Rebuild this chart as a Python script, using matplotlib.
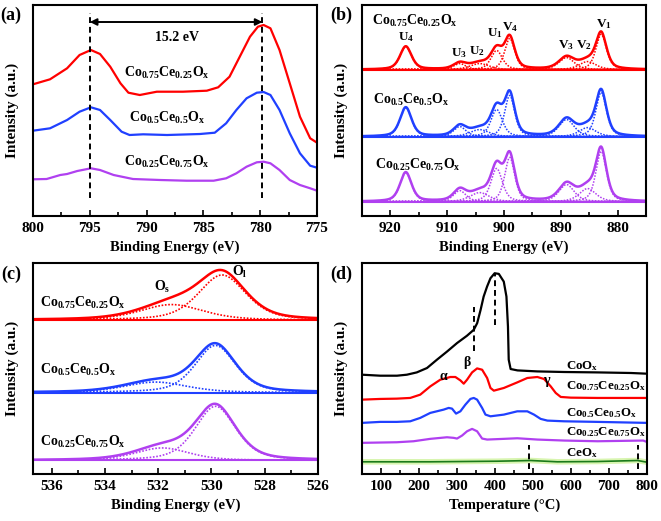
import numpy as np
import matplotlib.pyplot as plt

plt.rcParams['font.family'] = 'Liberation Serif'
plt.rcParams['font.weight'] = 'bold'
plt.rcParams['axes.labelweight'] = 'bold'
plt.rcParams['mathtext.fontset'] = 'custom'
plt.rcParams['mathtext.rm'] = 'Liberation Serif:bold'
plt.rcParams['mathtext.bf'] = 'Liberation Serif:bold'
plt.rcParams['mathtext.it'] = 'Liberation Serif:bold'
plt.rcParams['mathtext.default'] = 'bf'

names = [r'Co$_{0.75}$Ce$_{0.25}$O$_x$', r'Co$_{0.5}$Ce$_{0.5}$O$_x$',
         r'Co$_{0.25}$Ce$_{0.75}$O$_x$']
colors = ['#ff0000', '#2040ff', '#b040f0']

# ---- (a) Co 2p
a_x_red = [800, 798.5, 797.0, 795.9, 794.9, 794.1, 793.2, 792.3, 791.6, 790.6, 789.1, 786.8,
           784.7, 783.7, 782.7, 781.8, 780.9, 780.2, 779.7, 779.1, 778.3, 777.4, 776.5, 775.6, 775]
a_red = [131.7, 136.7, 147.7, 161, 166, 162, 149.3, 132.7, 123.3, 121, 124.3, 124.3,
         125.3, 128.7, 139.3, 159.3, 179.3, 189.3, 191, 187.7, 166, 132.7, 99.3, 77.7, 73.3]
a_x_blue = [800, 798.5, 797.0, 795.9, 794.9, 794.1, 793.2, 792.2, 791.5, 790.3, 788.2, 785.3,
            784.0, 783.0, 782.1, 781.2, 780.3, 779.7, 779.1, 778.3, 777.4, 776.5, 775.6, 775]
a_blue = [85.3, 87.7, 96, 104.3, 108.7, 106, 96, 84.3, 81, 81.7, 81, 82,
          83.3, 92.7, 106, 117.7, 123.3, 124, 121, 106, 82.7, 62.7, 50.3, 48.3]
a_x_purple = [800, 798.8, 797.6, 797.0, 796.1, 794.9, 794.1, 792.9, 791.2, 788.8, 786.5, 784.1,
              783.0, 782.1, 781.2, 780.3, 779.7, 779.1, 778.3, 777.4, 776.5, 775.6, 775]
a_purple = [36.7, 37, 41, 42, 45, 47.7, 46, 41, 37, 36, 35.3, 35.3,
            37.7, 42.7, 49.3, 53.7, 54.3, 52.7, 46, 36, 31, 27.7, 25.3]
a_peaks = [795.0, 779.8]

# ---- (b) Ce 3d fit: U4, U3, U2, U1, V4, V3, V2, V1
b_labels = ['U$_4$', 'U$_3$', 'U$_2$', 'U$_1$', 'V$_4$', 'V$_3$', 'V$_2$', 'V$_1$']
b_pos = [917.3, 907.8, 904.3, 901.3, 899.0, 889.0, 885.3, 882.9]
b_fwhm = [2.4, 2.6, 4.0, 2.4, 2.1, 3.2, 3.5, 2.2]
b_height = [[23, 6, 6, 19, 31, 12, 8, 35],
            [29, 10, 7, 27, 41, 17, 9, 44],
            [29, 11, 9, 33, 44, 17, 13, 50]]
b_base = [145.7, 79, 14.3]

# ---- (c) O 1s fit: O_l, O_s
c_pos = [[529.6, 531.5], [529.85, 532.1], [529.85, 531.85]]
c_fwhm = [[2.1, 2.8], [1.8, 2.8], [1.8, 2.4]]
c_height = [[45, 15.5], [47, 10.5], [54, 12.5]]
c_base = [154, 81.7, 14]

# ---- (d) H2-TPR
d_T_coox = [50, 98, 142, 168, 194, 221, 247, 274, 300, 326, 344, 353, 362, 370, 379, 388, 399,
            410, 423, 430, 434, 436, 441, 459, 511, 582, 670, 758, 800]
d_coox = [100, 99, 99, 100, 102.3, 106.7, 115, 123.3, 131.7, 139, 145, 151.7, 165, 178.3, 188.3,
          196.7, 201.7, 201, 193.3, 178.3, 148.3, 115, 105.7, 104.3, 103.3, 102.7, 102.3, 101.7, 101]
d_T_075 = [50, 97.5, 141.5, 176.8, 203.2, 229.6, 256, 282.4, 295.6, 308.8, 317.6, 326.4, 339.6,
           352.8, 366, 379.2, 388, 396.8, 423.2, 458.5, 484.9, 511.3, 528.9, 546.5, 559.7, 572.9,
           599.3, 669.7, 800]
d_075 = [75, 75.7, 76, 76.7, 80, 88.3, 95, 97.7, 97.7, 94.3, 91, 95, 102.3, 106.3, 105, 96.7,
         86.7, 84, 86.7, 92.3, 96.7, 97.7, 95.7, 88.3, 81.7, 77.7, 77, 76.7, 76.7]
d_T_05 = [50, 97.5, 141.5, 176.8, 203.2, 229.6, 264.8, 278, 286.8, 297.4, 308.8, 322, 335.2, 344,
          352.8, 366, 374.8, 388, 423.2, 458.5, 484.9, 502.5, 520.1, 537.7, 581.7, 669.7, 800]
d_05 = [51.7, 52.7, 52.7, 53.3, 56.7, 61.7, 65, 66.7, 66, 61, 63.3, 70, 75.7, 76.7, 75, 66.7,
        60, 58.3, 60, 63.3, 63.3, 60, 55.7, 54, 53.3, 52.7, 51.7]
d_T_025 = [50, 141.5, 185.6, 229.6, 273.6, 291.2, 300, 313.2, 326.4, 339.6, 352.8, 366, 379.2,
           423.2, 458.5, 511.3, 581.7, 669.7, 790, 800]
d_025 = [31.7, 32.3, 33.3, 35.7, 37.3, 36.7, 36, 39, 43.3, 45.7, 43.3, 36, 35, 35.7, 36.3, 35,
         34, 33.3, 34, 32.5]
d_T_ceox = [50, 230, 406, 494, 564, 670, 775, 800]
d_ceox = [12.7, 12.7, 13.3, 14, 12.7, 13, 14, 12.3]


def pv(x, c, h, w, eta=0.3):
    g = np.exp(-4 * np.log(2) * ((x - c) / w) ** 2)
    l = 1 / (1 + 4 * ((x - c) / w) ** 2)
    return h * ((1 - eta) * g + eta * l)


def style(ax, xlim, major, minor, xlabel):
    lo, hi = min(xlim), max(xlim)
    ax.set_xticks(np.arange(np.ceil(lo / major) * major, hi + 0.01, major))
    ax.set_xticks(np.arange(np.ceil(lo / minor) * minor, hi + 0.01, minor), minor=True)
    ax.set_xlim(*xlim)
    ax.set_yticks([])
    ax.tick_params(axis='x', which='major', direction='in', length=4, width=1.2,
                   labelsize=11, pad=4)
    ax.tick_params(axis='x', which='minor', direction='in', length=3, width=1.2)
    for s in ax.spines.values():
        s.set_linewidth(1.5)
    ax.set_xlabel(xlabel, fontsize=10.5, labelpad=4)
    ax.set_ylabel('Intensity (a.u.)', fontsize=11, labelpad=10)


fig = plt.figure(figsize=(6.61, 5.21), dpi=100)
ax_a = fig.add_axes([0.0499, 0.5854, 0.4297, 0.405])
ax_b = fig.add_axes([0.5477, 0.5854, 0.4297, 0.405])
ax_c = fig.add_axes([0.0499, 0.0893, 0.4312, 0.406])
ax_d = fig.add_axes([0.5477, 0.0893, 0.4312, 0.406])

# (a)
for xs, ys, c in zip([a_x_red, a_x_blue, a_x_purple], [a_red, a_blue, a_purple], colors):
    ax_a.plot(xs, ys, color=c, lw=1.6, solid_joinstyle='round')
for p in a_peaks:
    ax_a.plot([p, p], [18, 203], color='k', lw=1.4, ls=(0, (3, 2)))
ax_a.annotate('', xy=(a_peaks[1], 194), xytext=(a_peaks[0], 194),
              arrowprops=dict(arrowstyle='<|-|>', color='k', lw=1.4,
                              shrinkA=0, shrinkB=0, mutation_scale=10))
ax_a.text(787.3, 179, '15.2 eV', ha='center', va='center', fontsize=10)
for y, n in zip([143, 98, 54], names):
    ax_a.text(788.2, y, n, ha='center', va='center', fontsize=10)
ax_a.set_ylim(0, 211)
style(ax_a, (800, 775), 5, 2.5, 'Binding Energy (eV)')

# (b)
gb = np.linspace(925, 875, 1200)
for i in range(3):
    base = b_base[i]
    comps = [pv(gb, p, h, w, 0.5) for p, h, w in zip(b_pos, b_height[i], b_fwhm)]
    for cp in comps:
        ax_b.plot(gb, base + cp, color=colors[i], lw=1.1, ls=(0, (1, 1)))
    ax_b.plot([925, 875], [base, base], color=colors[i], lw=1.5)
    ax_b.plot(gb, base + np.sum(comps, axis=0), color=colors[i], lw=1.8)
ax_b.text(923.2, 194, names[0], ha='left', va='center', fontsize=10)
ax_b.text(923.1, 115.7, names[1], ha='left', va='center', fontsize=10)
ax_b.text(922.7, 51, names[2], ha='left', va='center', fontsize=10)
b_lab_x = [917.25, 907.9, 904.8, 901.6, 898.9, 889.1, 885.9, 882.4]
b_lab_y = [177.7, 162.3, 164.3, 181.7, 187.7, 170, 170, 191]
for x, y, t in zip(b_lab_x, b_lab_y, b_labels):
    ax_b.text(x, y, t, ha='center', va='center', fontsize=9.5)
ax_b.set_ylim(0, 210)
style(ax_b, (925, 875), 10, 5, 'Binding Energy (eV)')

# (c)
gc = np.linspace(536.7, 526, 1000)
c_lab_y = [170.7, 104, 32.3]
for i in range(3):
    base = c_base[i]
    comps = [pv(gc, p, h, w, 0.45) for p, h, w in zip(c_pos[i], c_height[i], c_fwhm[i])]
    for cp in comps:
        ax_c.plot(gc, base + cp, color=colors[i], lw=1.2, ls=(0, (1, 1)))
    ax_c.plot([536.7, 526], [base, base], color=colors[i], lw=1.5)
    ax_c.plot(gc, base + np.sum(comps, axis=0), color=colors[i], lw=1.8)
    ax_c.text(536.45, c_lab_y[i], names[i], ha='left', va='center', fontsize=10)
ax_c.text(531.86, 187.3, 'O$_s$', ha='center', va='center', fontsize=10)
ax_c.text(528.94, 202.3, 'O$_l$', ha='center', va='center', fontsize=10)
ax_c.set_ylim(0, 211)
style(ax_c, (536.7, 526), 2, 1, 'Binding Energy (eV)')

# (d)
ax_d.plot(d_T_ceox, d_ceox, color='#d8f5b0', lw=4)
ax_d.plot(d_T_ceox, d_ceox, color='#1a7a1a', lw=1.2)
ax_d.plot(d_T_025, d_025, color=colors[2], lw=1.6)
ax_d.plot(d_T_05, d_05, color=colors[1], lw=1.6)
ax_d.plot(d_T_075, d_075, color=colors[0], lw=1.6)
ax_d.plot(d_T_coox, d_coox, color='k', lw=1.6)
for x, y0, y1 in [(399, 150, 201.7), (344, 123.3, 168.3), (489, 5, 30), (777, 5, 30)]:
    ax_d.plot([x, x], [y0, y1], color='k', lw=1.4, ls=(0, (3, 2)))
d_names = ['CoO$_x$'] + names + ['CeO$_x$']
for y, n in zip([108.3, 88.3, 61.7, 42.7, 21.7], d_names):
    ax_d.text(586, y, n, ha='left', va='center', fontsize=9.3)
ax_d.text(264.7, 98.3, r'$\alpha$', ha='center', va='center', fontsize=10)
ax_d.text(328, 112.3, r'$\beta$', ha='center', va='center', fontsize=10)
ax_d.text(537.7, 92.3, r'$\gamma$', ha='center', va='center', fontsize=10)
ax_d.set_ylim(0, 212)
style(ax_d, (50, 800), 100, 50, 'Temperature (\u00b0C)')

for t, x, y in [('(a)', 11, 15), ('(b)', 341, 15), ('(c)', 11, 274), ('(d)', 341, 274)]:
    fig.text(x / 661, 1 - y / 521, t, ha='center', va='center', fontsize=13)

fig.savefig('out.png', dpi=100)
